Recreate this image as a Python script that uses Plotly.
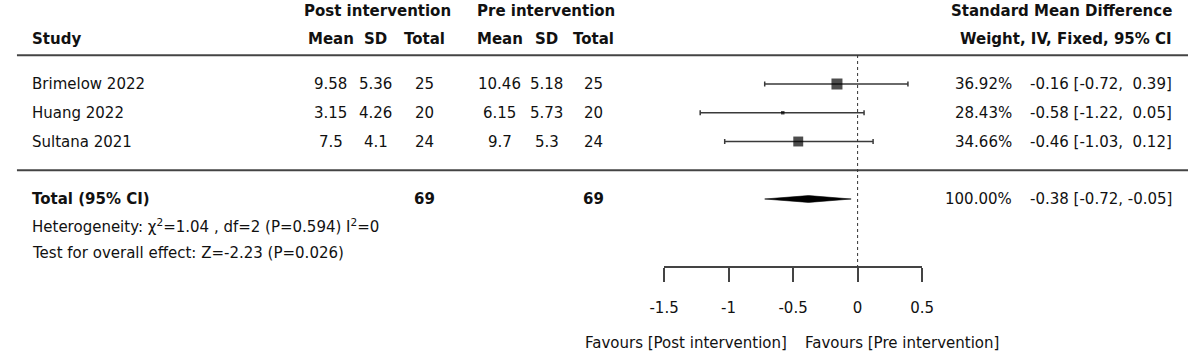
import plotly.graph_objects as go

# ---------------- data ----------------
studies = ["Brimelow 2022", "Huang 2022", "Sultana 2021"]
post_mean = [9.58, 3.15, 7.5]
post_sd = [5.36, 4.26, 4.1]
post_n = [25, 20, 24]
pre_mean = [10.46, 6.15, 9.7]
pre_sd = [5.18, 5.73, 5.3]
pre_n = [25, 20, 24]
weight = [36.92, 28.43, 34.66]
smd = [-0.16, -0.58, -0.46]
ci_lo = [-0.72, -1.22, -1.03]
ci_hi = [0.39, 0.05, 0.12]

total_post_n = 69
total_pre_n = 69
total_weight = 100.00
total_smd = -0.38
total_lo = -0.72
total_hi = -0.05

het_chi2 = 1.04
het_df = 2
het_p = 0.594
het_i2 = 0
z_value = -2.23
z_p = 0.026

tick_vals = [-1.5, -1, -0.5, 0, 0.5]
tick_text = ["-1.5", "-1", "-0.5", "0", "0.5"]

# ---------------- layout constants ----------------
W, H = 1200, 353
FONT = "DejaVu Sans"
FS = 15
TXT = "#111111"
LINE = "#444444"
ROW0_PX = 84.0      # pixel y of row 1
ROW_H = 28.75       # pixels per row
AX_Y_PX = 267       # pixel y of x axis line
AX_L_PX, AX_R_PX = 664, 928
NB = "\u00a0"


def row_of(py):
    return 1 + (py - ROW0_PX) / ROW_H


def px(xp):
    return xp / W


def py_paper(yp):
    return 1 - yp / H


y_top = row_of(0)
y_bot = row_of(H)

rows = [1, 2, 3]
total_row = 5

fig = go.Figure()

# confidence intervals (drawn first, beneath the boxes)
fig.add_trace(go.Scatter(
    x=smd, y=rows, mode="markers",
    marker=dict(size=1, color="rgba(0,0,0,0)"),
    error_x=dict(type="data", symmetric=False,
                 array=[h - m for h, m in zip(ci_hi, smd)],
                 arrayminus=[m - l for m, l in zip(smd, ci_lo)],
                 color="#3a3a3a", thickness=1.5, width=2.5),
    cliponaxis=False, hoverinfo="skip", showlegend=False,
))

# study boxes
wmin, wmax = min(weight), max(weight)
sizes = [3.5 + 7.5 * ((w - wmin) / (wmax - wmin)) ** 0.5 for w in weight]
fig.add_trace(go.Scatter(
    x=smd, y=rows, mode="markers",
    marker=dict(symbol="square", size=sizes, color="black", line=dict(width=0)),
    cliponaxis=False, hoverinfo="skip", showlegend=False,
))

# pooled diamond
dh = 3.4 / ROW_H
fig.add_trace(go.Scatter(
    x=[total_lo, total_smd, total_hi, total_smd, total_lo],
    y=[total_row, total_row - dh, total_row, total_row + dh, total_row],
    mode="lines", fill="toself", fillcolor="black",
    line=dict(color="black", width=0.6),
    cliponaxis=False, hoverinfo="skip", showlegend=False,
))

shapes = [
    dict(type="line", xref="paper", yref="y", x0=px(2), x1=1, y0=0, y1=0,
         line=dict(color=LINE, width=2)),
    dict(type="line", xref="paper", yref="y", x0=px(2), x1=1, y0=4, y1=4,
         line=dict(color=LINE, width=2)),
    dict(type="line", xref="x", yref="paper", x0=0, x1=0,
         y0=py_paper(55), y1=py_paper(AX_Y_PX),
         line=dict(color="#333333", width=1, dash="dot")),
]

ann = []


def add_text(text, x, y, anchor="left", bold=False, yref="y"):
    if bold:
        text = "<b>" + text + "</b>"
    ann.append(dict(text=text, x=px(x), y=y, xref="paper", yref=yref,
                    xanchor=anchor, yanchor="middle", showarrow=False,
                    font=dict(family=FONT, size=FS, color=TXT)))


def fmt_ci(m, lo, hi):
    s = f"{m:.2f} [{lo:.2f}, {hi:5.2f}]"
    return s.replace(" ", NB)


# headers
hdr1 = row_of(11)
hdr2 = row_of(39)
add_text("Post intervention", 371, hdr1, "center", True)
add_text("Pre intervention", 543.5, hdr1, "center", True)
add_text("Standard Mean Difference", 1186, hdr1, "right", True)
add_text("Study", 15, hdr2, "left", True)
col_x = [323, 369, 418.5, 496, 544, 592]
for t, cx in zip(["Mean", "SD", "Total", "Mean", "SD", "Total"], col_x):
    add_text(t, cx, hdr2, "center", True)
add_text("Weight, IV, Fixed, 95% CI", 1186, hdr2, "right", True)

# study rows
for i, r in enumerate(rows):
    add_text(studies[i], 15, r, "left")
    vals = [f"{post_mean[i]:g}", f"{post_sd[i]:g}", f"{post_n[i]}",
            f"{pre_mean[i]:g}", f"{pre_sd[i]:g}", f"{pre_n[i]}"]
    for v, cx in zip(vals, col_x):
        add_text(v, cx, r, "center")
    add_text(f"{weight[i]:.2f}%", 1022, r, "right")
    add_text(fmt_ci(smd[i], ci_lo[i], ci_hi[i]), 1186, r, "right")

# total row
add_text("Total (95% CI)", 15, total_row, "left", True)
add_text(str(total_post_n), 418.5, total_row, "center", True)
add_text(str(total_pre_n), 592, total_row, "center", True)
add_text(f"{total_weight:.2f}%", 1022, total_row, "right")
add_text(fmt_ci(total_smd, total_lo, total_hi), 1186, total_row, "right")

add_text(f"Heterogeneity: χ<sup>2</sup>={het_chi2:.2f} , df={het_df} (P={het_p:.3f}) "
         f"I<sup>2</sup>={het_i2}", 15, row_of(226), "left")
add_text(f"Test for overall effect: Z={z_value:.2f} (P={z_p:.3f})", 15, row_of(253), "left")

# favours labels
fav_c = (AX_L_PX + AX_R_PX) / 2
add_text("Favours [Post intervention]", fav_c - 4, py_paper(343), "right", yref="paper")
add_text("Favours [Pre intervention]", fav_c + 10, py_paper(343), "left", yref="paper")

fig.update_layout(
    width=W, height=H,
    margin=dict(l=0, r=0, t=0, b=0),
    paper_bgcolor="white", plot_bgcolor="white",
    shapes=shapes, annotations=ann,
    xaxis=dict(
        domain=[px(AX_L_PX), px(AX_R_PX)], range=[-1.5, 0.5],
        anchor="free", position=py_paper(AX_Y_PX), side="bottom",
        showline=True, linecolor=LINE, linewidth=1.5,
        ticks="outside", ticklen=14, tickwidth=1.5, tickcolor=LINE,
        tickvals=tick_vals, ticktext=tick_text,
        tickfont=dict(family=FONT, size=FS, color=TXT),
        ticklabelstandoff=13,
        showgrid=False, zeroline=False, fixedrange=True,
    ),
    yaxis=dict(domain=[0, 1], range=[y_bot, y_top], visible=False,
               showgrid=False, zeroline=False, fixedrange=True),
)

fig.write_html("out.html")
